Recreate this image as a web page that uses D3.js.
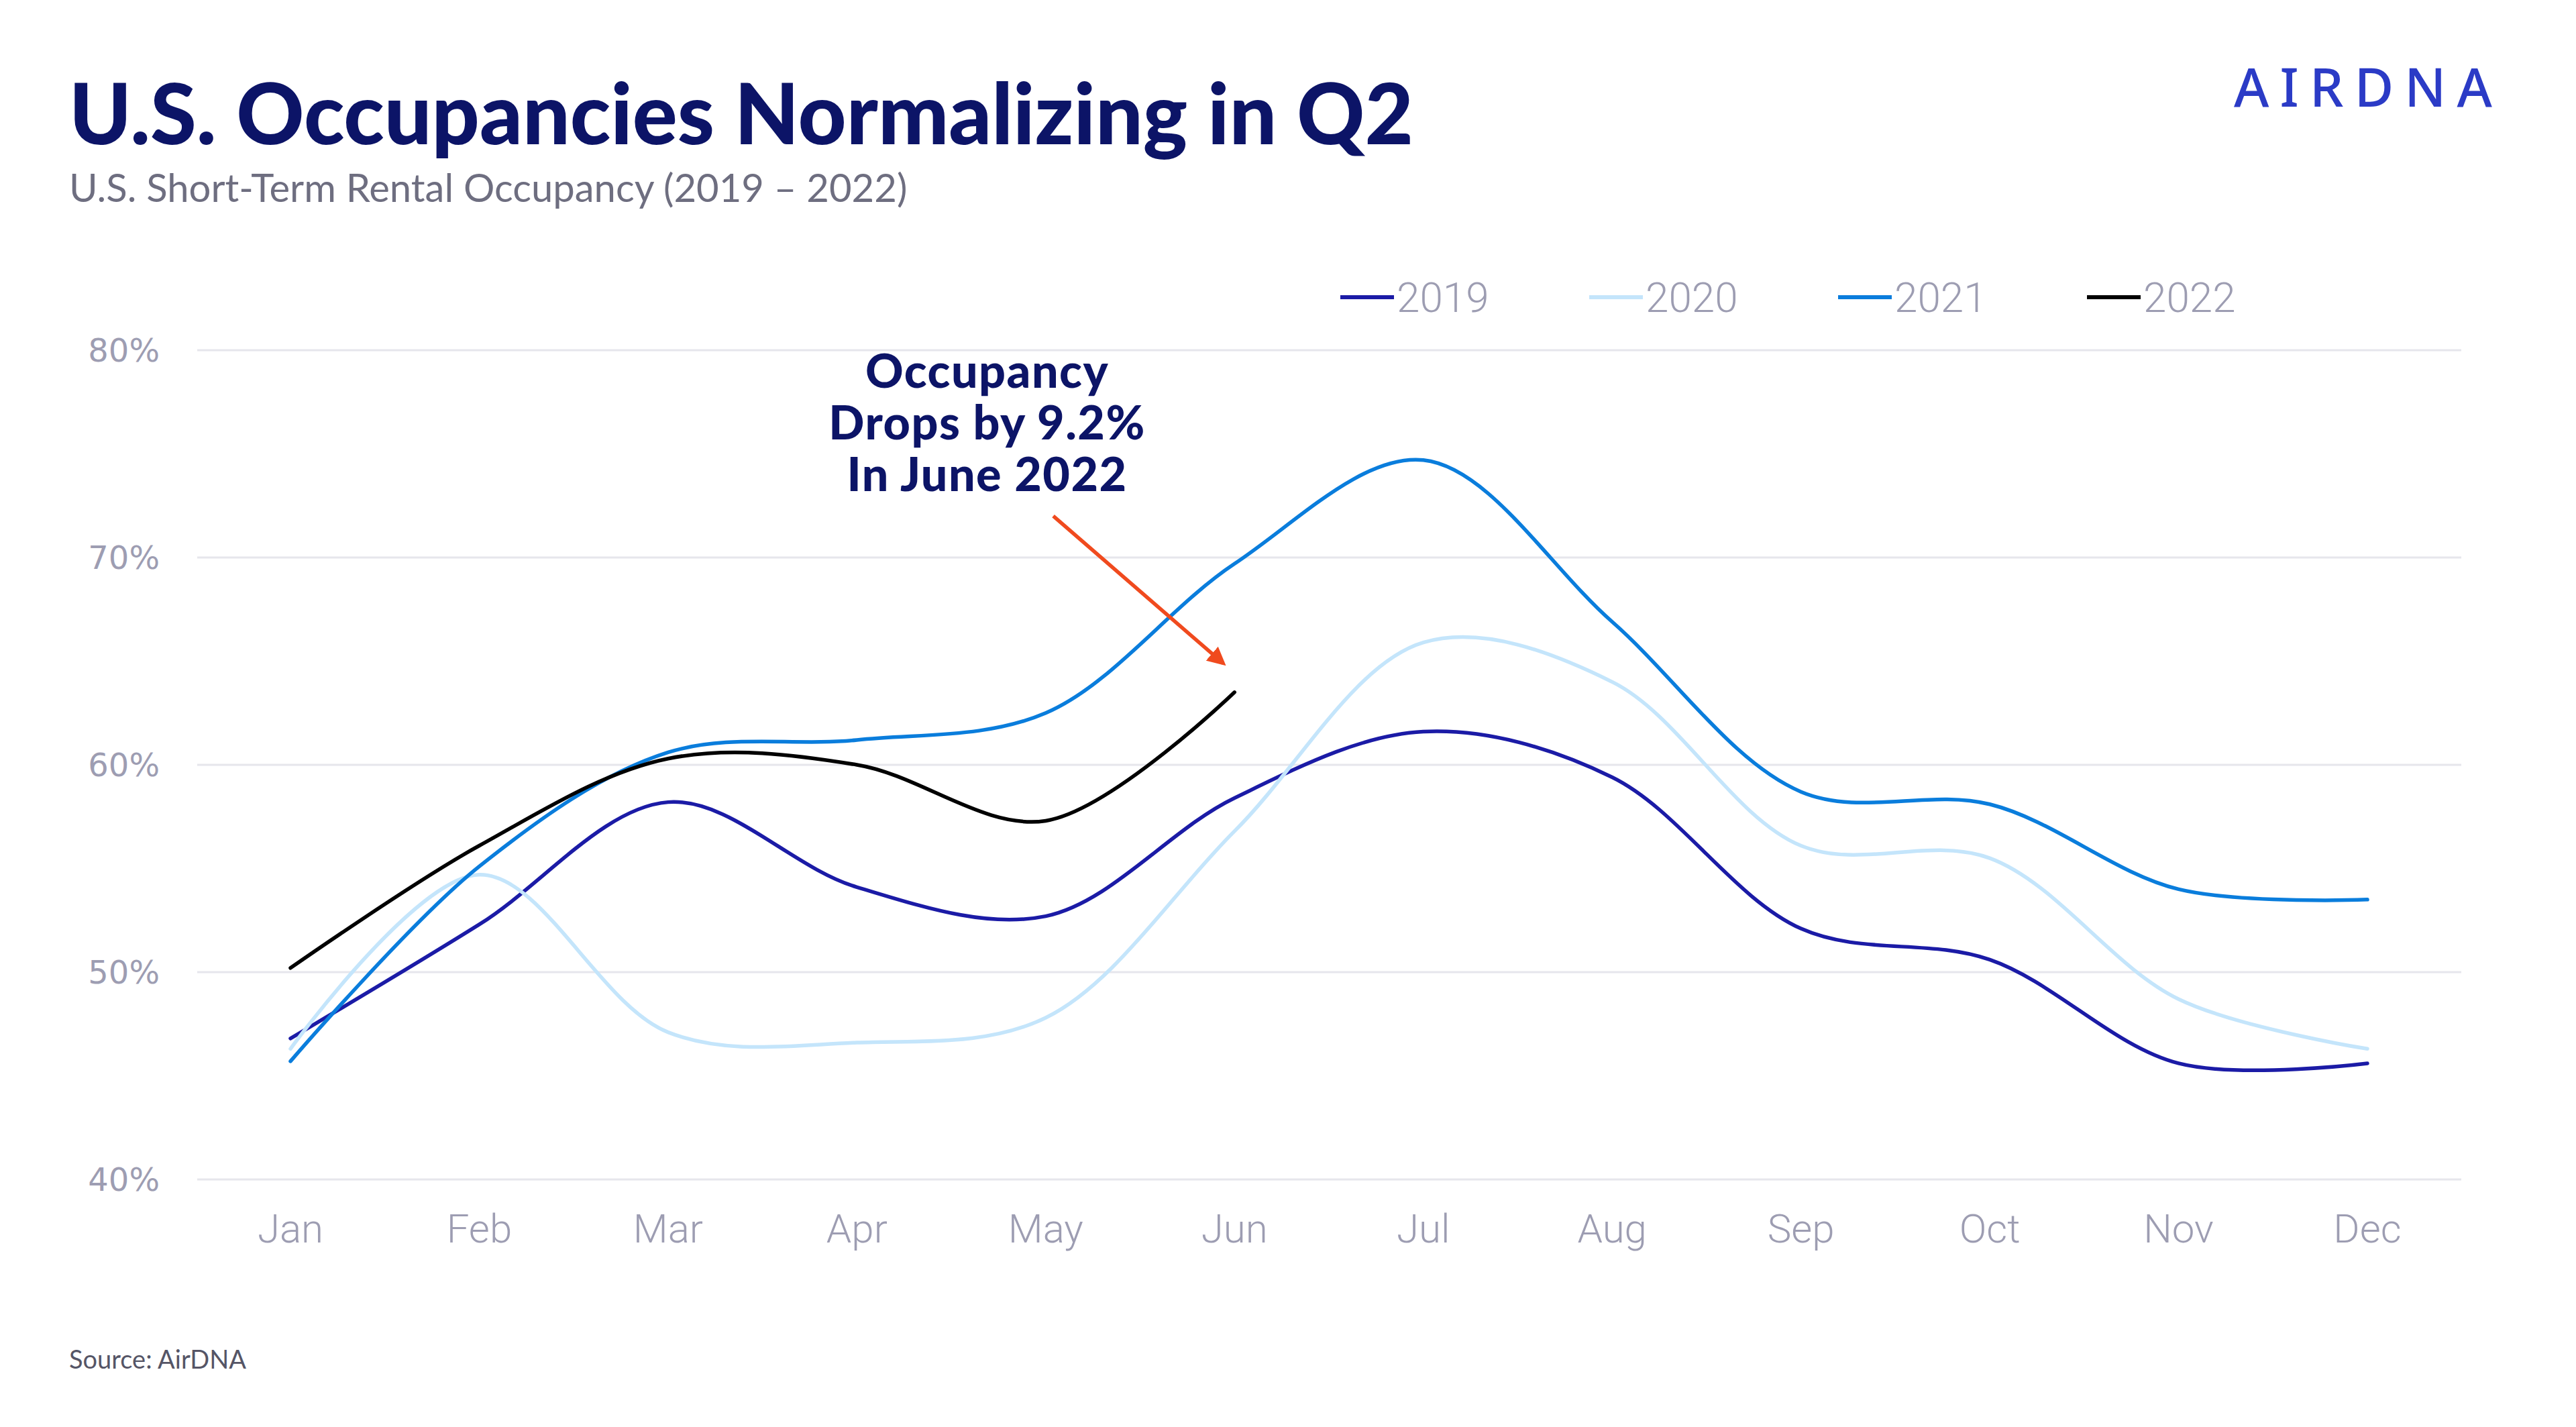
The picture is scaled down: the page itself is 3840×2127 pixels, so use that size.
<html>
<head>
    <meta charset="utf-8">
    <title>U.S. Occupancies Normalizing in Q2</title>
    <style>
        body { margin: 0; background: #ffffff; }
        svg { display: block; }
    </style>
</head>
<body>
    <script src="https://cdn.jsdelivr.net/npm/d3@7"></script>
    <script>
        var width = 3840;
        var height = 2127;

        // data
        var months = ["Jan", "Feb", "Mar", "Apr", "May", "Jun", "Jul", "Aug", "Sep", "Oct", "Nov", "Dec"];
        var years = ["2019", "2020", "2021", "2022"];
        var occ2019 = [46.8, 52.3, 58.2, 54.1, 52.7, 58.4, 61.6, 59.4, 52.1, 50.6, 45.6, 45.6];
        var occ2020 = [46.3, 54.7, 47.1, 46.6, 47.8, 56.8, 65.9, 64.0, 56.1, 55.5, 48.7, 46.3];
        var occ2021 = [45.7, 55.1, 60.6, 61.2, 62.5, 69.7, 74.7, 66.9, 58.7, 58.1, 54.0, 53.5];
        var occ2022 = [50.2, 56.1, 60.3, 60.0, 57.3, 63.5];
        var yTicks = [40, 50, 60, 70, 80];
        var colors = ["#1b1ba6", "#c4e5fb", "#0a7ddc", "#000000"];

        var series = [occ2019, occ2020, occ2021, occ2022];

        var svg = d3.select("body")
            .append("svg")
            .attr("width", width)
            .attr("height", height);

        var x = d3.scaleLinear().domain([0, 11]).range([433, 3529]);
        var y = d3.scaleLinear().domain([40, 80]).range([1758, 522]);

        // title
        svg.append("text")
            .attr("x", 103).attr("y", 215)
            .attr("font-family", "Lato").attr("font-weight", 900)
            .attr("font-size", 125).attr("fill", "#0c1467")
            .text("U.S. Occupancies Normalizing in Q2");
        svg.append("text")
            .attr("x", 103).attr("y", 301)
            .attr("font-family", "Lato").attr("font-weight", 400)
            .attr("font-size", 58).attr("fill", "#6e6e80")
            .text("U.S. Short-Term Rental Occupancy (2019 – 2022)");

        // logo
        svg.append("text")
            .attr("x", 3330).attr("y", 159)
            .attr("font-family", "Noto Sans").attr("font-weight", 500)
            .attr("font-size", 80).attr("fill", "#2b3bc6")
            .attr("textLength", 385).attr("lengthAdjust", "spacing")
            .text("AIRDNA");

        // gridlines
        svg.append("g").selectAll("line")
            .data(yTicks)
            .enter().append("line")
            .attr("x1", 294).attr("x2", 3669)
            .attr("y1", d => y(d)).attr("y2", d => y(d))
            .attr("stroke", "#e6e6ec").attr("stroke-width", 3);

        // y labels
        svg.append("g").selectAll("text")
            .data(yTicks)
            .enter().append("text")
            .attr("x", 238).attr("y", d => y(d) + 17)
            .attr("text-anchor", "end")
            .attr("font-family", "DejaVu Sans").attr("font-size", 48)
            .attr("fill", "#9d9db2")
            .text(d => d + "%");

        // x labels
        svg.append("g").selectAll("text")
            .data(months)
            .enter().append("text")
            .attr("x", (d, i) => x(i)).attr("y", 1852)
            .attr("text-anchor", "middle")
            .attr("font-family", "Roboto").attr("font-weight", 300)
            .attr("font-size", 60).attr("fill", "#9d9db2")
            .text(d => d);

        // lines
        var line = d3.line()
            .x((d, i) => x(i))
            .y(d => y(d))
            .curve(d3.curveCatmullRom.alpha(0.5));

        svg.append("g").selectAll("path")
            .data(series)
            .enter().append("path")
            .attr("d", d => line(d))
            .attr("fill", "none")
            .attr("stroke", (d, i) => colors[i])
            .attr("stroke-width", 5.5)
            .attr("stroke-linecap", "round");

        // legend
        var legend = svg.append("g").selectAll("g")
            .data(years)
            .enter().append("g")
            .attr("transform", (d, i) => "translate(" + (1998 + i * 371) + ",443)");
        legend.append("line")
            .attr("x1", 0).attr("x2", 80)
            .attr("stroke", (d, i) => colors[i]).attr("stroke-width", 6);
        legend.append("text")
            .attr("x", 84).attr("y", 22)
            .attr("font-family", "Roboto").attr("font-weight", 300)
            .attr("font-size", 62).attr("fill", "#9d9db2")
            .text(d => d);

        // annotation
        var note = ["Occupancy", "Drops by 9.2%", "In June 2022"];
        svg.append("g").selectAll("text")
            .data(note)
            .enter().append("text")
            .attr("x", x(3.69)).attr("y", (d, i) => 578 + i * 77)
            .attr("text-anchor", "middle")
            .attr("font-family", "Lato").attr("font-weight", 900)
            .attr("font-size", 70).attr("letter-spacing", 1.5)
            .attr("fill", "#0c1467")
            .text(d => d);

        svg.append("defs").append("marker")
            .attr("id", "arrow")
            .attr("viewBox", "0 0 10 10")
            .attr("refX", 8).attr("refY", 5)
            .attr("markerWidth", 5).attr("markerHeight", 5)
            .attr("orient", "auto")
            .append("path")
            .attr("d", "M0,0L10,5L0,10Z")
            .attr("fill", "#f04a1e");
        svg.append("line")
            .attr("x1", x(4.04)).attr("y1", y(72))
            .attr("x2", x(4.94)).attr("y2", y(64.9))
            .attr("stroke", "#f04a1e").attr("stroke-width", 5.5)
            .attr("marker-end", "url(#arrow)");

        // source
        svg.append("text")
            .attr("x", 103).attr("y", 2040)
            .attr("font-family", "Lato").attr("font-size", 38)
            .attr("fill", "#555566")
            .text("Source: AirDNA");
    </script>
</body>
</html>
